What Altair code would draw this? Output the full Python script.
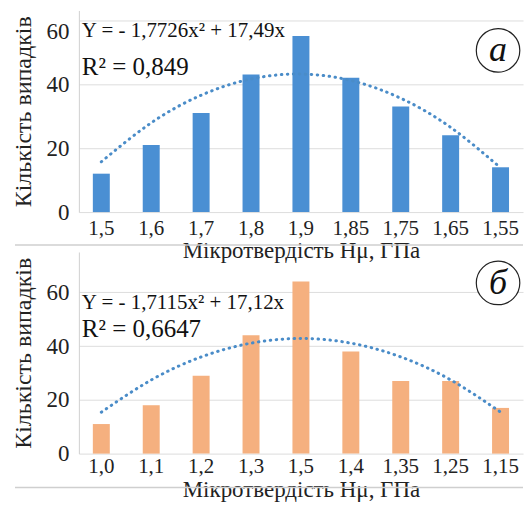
import altair as alt
import pandas as pd

# ---- data ----
cats_a = ["1,5", "1,6", "1,7", "1,8", "1,9", "1,85", "1,75", "1,65", "1,55"]
vals_a = [12, 21, 31, 43, 55, 42, 33, 24, 14]
coef_a = [-1.7726, 17.49]
eq_a = "Y = - 1,7726x² + 17,49x"
r2_a = "R² = 0,849"

cats_b = ["1,0", "1,1", "1,2", "1,3", "1,5", "1,4", "1,35", "1,25", "1,15"]
vals_b = [11, 18, 29, 44, 64, 38, 27, 27, 17]
coef_b = [-1.7115, 17.12]
eq_b = "Y = - 1,7115x² + 17,12x"
r2_b = "R² = 0,6647"

grid_values = [0, 10, 20, 30, 40, 50, 60]
x_title = "Мікротвердість Hμ, ГПа"
y_title = "Кількість випадків"

FONT = "Times New Roman, Liberation Serif, DejaVu Serif, serif"
W, H = 445, 202


def panel(cats, vals, coef, eq, r2, color, letter, ymax, eq_y, r2_y,
          lab_pad, title_pad, circ_y, sep_y, top_label_base):
    df = pd.DataFrame({"cat": cats, "val": vals, "idx": list(range(1, len(cats) + 1))})
    xs = alt.X(
        "cat:N", sort=cats,
        scale=alt.Scale(paddingInner=0.66, paddingOuter=0.28),
        axis=alt.Axis(title=x_title, labelAngle=0, labelFont=FONT, labelFontSize=21,
                      labelColor="#222", ticks=False, domain=False,
                      labelPadding=lab_pad, titleFont=FONT, titleFontSize=23,
                      titleFontWeight="normal", titleColor="#222",
                      titlePadding=title_pad),
    )
    ys = alt.Y(
        "val:Q",
        scale=alt.Scale(domain=[0, ymax], nice=False),
        axis=alt.Axis(title=y_title, values=grid_values,
                      labelExpr="datum.value % 20 == 0 ? datum.label : ''",
                      labelBaseline={"condition": {"test": "datum.value == 60",
                                                   "value": top_label_base},
                                     "value": "middle"},
                      labelFont=FONT, labelFontSize=23, labelColor="#222",
                      ticks=False, domainColor="#d0d0d0", gridColor="#dddddd",
                      labelPadding=10, titleFont=FONT, titleFontSize=24,
                      titleFontWeight="normal", titleColor="#222", titlePadding=10),
    )
    base = alt.Chart(df)
    bars = base.mark_bar(color=color).encode(x=xs, y=ys)
    trend = base.transform_calculate(
        fit=f"{coef[0]} * datum.idx * datum.idx + {coef[1]} * datum.idx"
    ).mark_line(
        color="#4a8cc8", strokeWidth=3, strokeDash=[0.5, 5.5], strokeCap="round",
        interpolate="natural",
    ).encode(x=alt.X("cat:N", sort=cats), y="fit:Q")

    tdf = pd.DataFrame({"t": [eq], "v": [eq_y]})
    rdf = pd.DataFrame({"t": [r2], "v": [r2_y]})
    eq_text = alt.Chart(tdf).mark_text(
        font=FONT, fontSize=21, align="left", baseline="middle", color="#111"
    ).encode(x=alt.value(3), y="v:Q", text="t:N")
    r2_text = alt.Chart(rdf).mark_text(
        font=FONT, fontSize=25, align="left", baseline="middle", color="#111"
    ).encode(x=alt.value(3), y="v:Q", text="t:N")

    ldf = pd.DataFrame({"l": [letter]})
    circ = alt.Chart(ldf).mark_circle(
        color="white", opacity=1, stroke="#222", strokeWidth=1.2, size=1900
    ).encode(x=alt.value(420), y=alt.value(circ_y))
    let = alt.Chart(ldf).mark_text(
        font=FONT, fontSize=36, fontStyle="italic", baseline="middle", align="center",
        color="#111"
    ).encode(x=alt.value(420), y=alt.value(circ_y), text="l:N")
    sep = alt.Chart(ldf).mark_rule(color="#cfcfcf", strokeWidth=1.5).encode(
        x=alt.value(-64), x2=alt.value(W), y=alt.value(sep_y)
    )

    return alt.layer(sep, bars, trend, eq_text, r2_text, circ, let).properties(
        width=W, height=H
    )


top = panel(cats_a, vals_a, coef_a, eq_a, r2_a, "#4a8fd3", "а", 63, 56.6, 45.3,
            5, 2, 40, H + 33, "top")
bottom = panel(cats_b, vals_b, coef_b, eq_b, r2_b, "#f5b07f", "б", 75, 56, 46.4,
               2, 2, 31, H + 34, "middle")

chart = alt.vconcat(top, bottom, spacing=40, bounds="flush").properties(
    padding={"left": 4, "top": 2, "right": 0, "bottom": 0}
).configure_view(stroke=None)

chart.save("out.html", embed_options={"renderer": "svg", "actions": False})
